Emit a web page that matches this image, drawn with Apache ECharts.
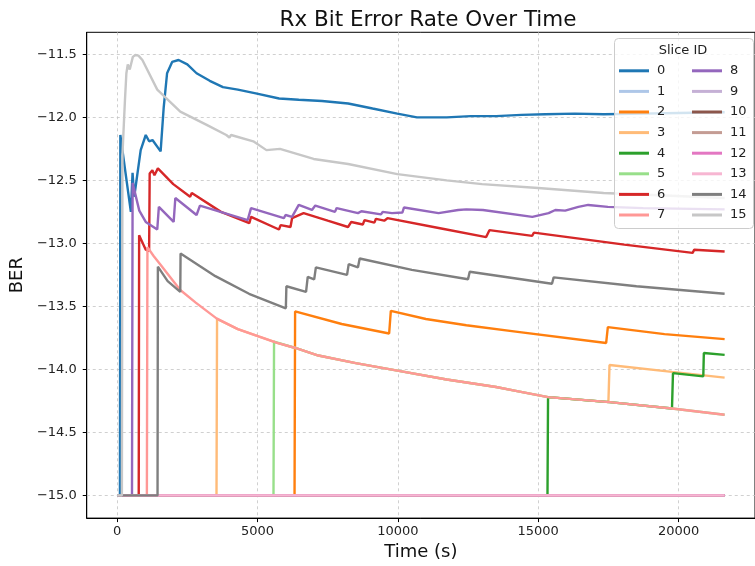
<!DOCTYPE html>
<html>
<head>
<meta charset="utf-8">
<script src="https://cdn.jsdelivr.net/npm/echarts@6/dist/echarts.min.js"></script>
<style>
html,body{margin:0;padding:0;background:#fff;}
#chart{width:755px;height:566px;}
</style>
</head>
<body>
<div id="chart"></div>
<script>
// ---- data: [time (s), log10 BER] ----
const sliceIds = ['0','1','2','3','4','5','6','7','8','9','10','11','12','13','14','15'];
const colors = ['#1f77b4','#aec7e8','#ff7f0e','#ffbb78','#2ca02c','#98df8a','#d62728','#ff9896',
                '#9467bd','#c5b0d5','#8c564b','#c49c94','#e377c2','#f7b6d2','#7f7f7f','#c7c7c7'];
const xTicks = [0, 5000, 10000, 15000, 20000];
const yTicks = [-15.0, -14.5, -14.0, -13.5, -13.0, -12.5, -12.0, -11.5];

const slice0 = [[0,-15],[100,-15],[115,-12.14],[490,-12.75],[550,-12.44],[610,-12.63],[840,-12.26],[1020,-12.14],[1140,-12.19],[1260,-12.18],[1550,-12.27],[1660,-11.92],[1780,-11.65],[1960,-11.56],[2190,-11.545],[2500,-11.58],[2830,-11.65],[3300,-11.71],[3770,-11.76],[4300,-11.78],[4940,-11.81],[5770,-11.85],[6470,-11.86],[7300,-11.87],[8230,-11.89],[9100,-11.93],[9980,-11.97],[10680,-12.0],[11740,-12.0],[12600,-11.99],[13500,-11.99],[14400,-11.98],[15250,-11.975],[16300,-11.97],[17330,-11.975],[18740,-11.97],[20000,-11.965],[21640,-11.96]];
const slice1 = [[0,-15],[21640,-15]];
const slice2 = [[0,-15],[6320,-15],[6340,-13.54],[8000,-13.64],[9690,-13.715],[9750,-13.535],[11000,-13.6],[12440,-13.65],[14200,-13.70],[17420,-13.79],[17480,-13.665],[19500,-13.72],[21640,-13.76]];
const slice3 = [[0,-15],[3540,-15],[3560,-13.6],[4300,-13.68],[5062,-13.74],[5700,-13.79],[6350,-13.83],[7170,-13.89],[8500,-13.95],[9983,-14.01],[11740,-14.08],[13500,-14.14],[14200,-14.17],[15350,-14.22],[17500,-14.26],[17540,-13.965],[19765,-14.02],[21640,-14.065]];
const slice4 = [[0,-15],[15330,-15],[15350,-14.22],[17540,-14.26],[19765,-14.31],[19800,-14.03],[20880,-14.055],[20900,-13.87],[21640,-13.885]];
const slice5 = [[0,-15],[5570,-15],[5590,-13.78],[6350,-13.83],[7170,-13.89],[8500,-13.95],[9983,-14.01],[11740,-14.08],[13500,-14.14],[14200,-14.17],[15350,-14.22],[17540,-14.26],[19765,-14.31],[21640,-14.36]];
const slice6 = [[0,-15],[770,-15],[784,-12.935],[1020,-13.05],[1140,-13.06],[1160,-12.445],[1255,-12.42],[1330,-12.46],[1452,-12.405],[2000,-12.53],[2600,-12.63],[2660,-12.6],[3700,-12.75],[4710,-12.84],[4770,-12.79],[5765,-12.89],[5825,-12.855],[6176,-12.87],[6232,-12.8],[6643,-12.76],[7500,-12.82],[8225,-12.87],[8341,-12.83],[8752,-12.85],[8812,-12.815],[9164,-12.835],[9220,-12.805],[9515,-12.82],[9631,-12.80],[11500,-12.88],[13146,-12.95],[13262,-12.895],[14787,-12.94],[14844,-12.915],[18067,-13.01],[20500,-13.075],[20560,-13.05],[21640,-13.065]];
const slice7 = [[0,-15],[1060,-15],[1080,-13.03],[1300,-13.1],[1547,-13.17],[1900,-13.27],[2250,-13.37],[2800,-13.47],[3540,-13.595],[4300,-13.68],[5062,-13.74],[5700,-13.79],[6350,-13.83],[7170,-13.89],[8500,-13.95],[9983,-14.01],[11740,-14.08],[13500,-14.14],[14200,-14.17],[15350,-14.22],[17540,-14.26],[19765,-14.31],[21640,-14.36]];
const slice8 = [[0,-15],[530,-15],[552,-12.52],[790,-12.74],[1020,-12.83],[1430,-12.89],[1487,-12.71],[2014,-12.83],[2074,-12.64],[2830,-12.775],[2950,-12.70],[4650,-12.815],[4770,-12.72],[5940,-12.80],[6000,-12.775],[6230,-12.79],[6470,-12.695],[6940,-12.735],[7060,-12.70],[7760,-12.75],[7820,-12.72],[8580,-12.76],[8700,-12.745],[9400,-12.77],[9460,-12.75],[9790,-12.76],[9840,-12.745],[10160,-12.755],[10220,-12.715],[11450,-12.76],[11510,-12.745],[12150,-12.735],[12440,-12.73],[13030,-12.735],[14790,-12.79],[14850,-12.775],[15370,-12.76],[15610,-12.735],[15960,-12.74],[16430,-12.71],[16780,-12.695],[17480,-12.71],[18740,-12.72],[21640,-12.73]];
const slice9 = [[0,-15],[21640,-15]];
const slice10 = [[0,-15],[21640,-15]];
const slice11 = [[0,-15],[21640,-15]];
const slice12 = [[0,-15],[21640,-15]];
const slice13 = [[0,-15],[21640,-15]];
const slice14 = [[0,-15],[1440,-15],[1452,-13.185],[1800,-13.3],[2250,-13.385],[2260,-13.08],[3500,-13.26],[4700,-13.4],[6010,-13.515],[6030,-13.34],[6730,-13.385],[6790,-13.265],[7020,-13.285],[7080,-13.19],[8190,-13.25],[8250,-13.165],[8580,-13.19],[8640,-13.12],[10500,-13.21],[12500,-13.285],[12560,-13.225],[15490,-13.32],[15550,-13.27],[18500,-13.34],[21640,-13.40]];
const slice15 = [[0,-15],[170,-15],[190,-12.3],[230,-12.1],[280,-11.86],[330,-11.65],[380,-11.58],[450,-11.62],[560,-11.52],[650,-11.505],[760,-11.51],[900,-11.545],[1430,-11.78],[2250,-11.955],[3190,-12.06],[3890,-12.14],[4000,-12.16],[4060,-12.14],[4850,-12.19],[5320,-12.26],[5800,-12.25],[7000,-12.33],[8230,-12.37],[9983,-12.45],[11740,-12.5],[13000,-12.53],[15000,-12.56],[17330,-12.6],[19500,-12.62],[21640,-12.64]];

const allSlices = [slice0,slice1,slice2,slice3,slice4,slice5,slice6,slice7,slice8,slice9,slice10,slice11,slice12,slice13,slice14,slice15];

const FONT = 'DejaVu Sans';
const chart = echarts.init(document.getElementById('chart'), null, {renderer: 'canvas'});

const fmtY = v => (v < 0 ? '\u2212' : '') + Math.abs(v).toFixed(1);

const series = allSlices.map((d, i) => ({
  name: sliceIds[i],
  type: 'line',
  data: d,
  showSymbol: false,
  symbol: 'none',
  lineStyle: {width: 2.4, color: colors[i]},
  itemStyle: {color: colors[i]},
  emphasis: {disabled: true},
  animation: false
}));

const legendCommon = {
  orient: 'vertical',
  icon: 'rect',
  itemWidth: 30,
  itemHeight: 3,
  itemGap: 0,
  padding: 0,
  top: 60.5,
  z: 60,
  selectedMode: false,
  textStyle: {fontFamily: FONT, fontSize: 13, color: '#222', lineHeight: 20.6, padding: [0,0,0,3]}
};

chart.setOption({
  animation: false,
  color: colors,
  title: {
    text: 'Rx Bit Error Rate Over Time',
    left: 423, top: 4, textAlign: 'center',
    textStyle: {fontFamily: FONT, fontSize: 21.5, fontWeight: 'normal', color: '#111'}
  },
  grid: {left: 85, top: 32.3, right: -7.5, bottom: 47.7, show: true, borderColor: '#000', borderWidth: 1, backgroundColor: 'transparent'},
  xAxis: {
    type: 'value', min: -1082, max: 22722, splitNumber: 5,
    name: 'Time (s)', nameLocation: 'middle', nameGap: 24,
    nameTextStyle: {fontFamily: FONT, fontSize: 18, color: '#111'},
    axisLine: {show: true, onZero: false, lineStyle: {color: '#000', width: 1}},
    axisTick: {show: true, inside: false, length: 4, lineStyle: {color: '#000', width: 1}, customValues: xTicks},
    axisLabel: {fontFamily: FONT, fontSize: 13, color: '#222', margin: 7, showMinLabel: true, showMaxLabel: true,
      customValues: xTicks,
      formatter: v => String(v)},
    splitLine: {show: true, lineStyle: {color: '#c4c4c4', type: [3, 3], width: 0.8}}
  },
  yAxis: {
    type: 'value', min: -15.18, max: -11.325, splitNumber: 8,
    name: 'BER', nameLocation: 'middle', nameGap: 49, nameRotate: 90,
    nameTextStyle: {fontFamily: FONT, fontSize: 18, color: '#111'},
    axisLine: {show: true, onZero: false, lineStyle: {color: '#000', width: 1}},
    axisTick: {show: true, inside: false, length: 4, lineStyle: {color: '#000', width: 1}, customValues: yTicks},
    axisLabel: {fontFamily: FONT, fontSize: 13, color: '#222', margin: 10, showMinLabel: true, showMaxLabel: true,
      customValues: yTicks,
      formatter: v => fmtY(v)},
    splitLine: {show: true, lineStyle: {color: '#c4c4c4', type: [3, 3], width: 0.8}}
  },
  legend: [
    Object.assign({}, legendCommon, {left: 619, data: sliceIds.slice(0, 8)}),
    Object.assign({}, legendCommon, {left: 692, data: sliceIds.slice(8)})
  ],
  graphic: [
    {type: 'rect', z: 50, shape: {x: 614.5, y: 38.5, width: 139, height: 190, r: 4},
     style: {fill: 'rgba(255,255,255,0.8)', stroke: '#cccccc', lineWidth: 1}},
    {type: 'text', z: 55, x: 683, y: 51,
     style: {text: 'Slice ID', fontFamily: FONT, fontSize: 13, fill: '#222', textAlign: 'center', textVerticalAlign: 'middle'}}
  ],
  series: series
});
</script>
</body>
</html>
